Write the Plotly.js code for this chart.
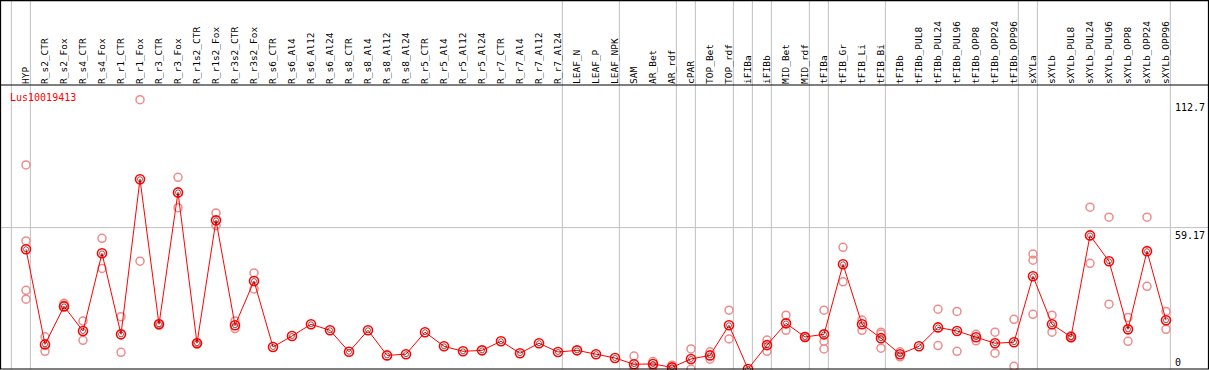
<!DOCTYPE html>
<html><head><meta charset="utf-8">
<script src="https://cdn.plot.ly/plotly-3.0.1.min.js"></script>
<style>html,body{margin:0;padding:0;background:#fff;overflow:hidden}#chart{width:1209px;height:370px}</style>
</head><body><div id="chart"></div>
<script>
const categories = ['HYP','R_s2_CTR','R_s2_Fox','R_s4_CTR','R_s4_Fox','R_r1_CTR','R_r1_Fox','R_r3_CTR','R_r3_Fox','R_r1s2_CTR','R_r1s2_Fox','R_r3s2_CTR','R_r3s2_Fox','R_s6_CTR','R_s6_Al4','R_s6_Al12','R_s6_Al24','R_s8_CTR','R_s8_Al4','R_s8_Al12','R_s8_Al24','R_r5_CTR','R_r5_Al4','R_r5_Al12','R_r5_Al24','R_r7_CTR','R_r7_Al4','R_r7_Al12','R_r7_Al24','LEAF_N','LEAF_P','LEAF_NPK','SAM','AR_Bet','AR_rdf','cPAR','TOP_Bet','TOP_rdf','iFIBa','iFIBb','MID_Bet','MID_rdf','tFIBa','tFIB_Gr','tFIB_Li','tFIB_Bi','tFIBb','tFIBb_PUL8','tFIBb_PUL24','tFIBb_PUL96','tFIBb_OPP8','tFIBb_OPP24','tFIBb_OPP96','sXYLa','sXYLb','sXYLb_PUL8','sXYLb_PUL24','sXYLb_PUL96','sXYLb_OPP8','sXYLb_OPP24','sXYLb_OPP96'];

const meanValues = [50.1,10.3,26.2,15.9,48.4,14.5,79.4,18.7,73.9,10.8,62.2,18.3,36.8,9.2,13.8,18.7,16.2,7.2,16.2,5.7,6.2,15.4,9.5,7.4,7.8,11.6,6.6,10.8,7.1,7.8,6.2,4.6,2.0,2.1,0.7,4.2,5.7,18.3,0,10.0,19.1,13.4,14.5,43.8,18.7,12.9,6.2,9.5,17.4,15.9,13.3,10.8,11.2,38.8,18.7,13.4,55.9,45.1,16.6,49.3,20.4];

const rep1 = [85.4,13.5,27.5,20.1,54.7,21.9,112.7,19.0,80.2,11.0,65.3,20.1,40.2,null,null,null,null,null,null,null,null,null,null,null,null,null,null,null,null,null,null,null,5.4,3.1,1.6,8.4,7.2,24.6,null,12.1,22.5,13.6,24.6,50.9,20.5,15.4,7.2,null,25.0,24.1,14.5,15.4,20.8,48.1,22.5,12.9,67.7,63.5,21.6,63.5,24.1];
const rep2 = [53.6,7.4,26.8,12.0,42.1,7.0,45.1,18.4,67.5,10.5,60.0,16.9,33.5,null,null,null,null,null,null,null,null,null,null,null,null,null,null,null,null,null,null,null,0.3,1.0,0,0,4.1,12.6,null,7.4,16.2,13.2,11.6,36.5,16.2,14.6,5.1,null,9.8,7.4,11.8,6.6,1.1,45.5,15.4,13.9,44.2,27.1,11.6,34.6,16.6];
const rep3 = [32.9,null,null,null,null,null,null,null,null,null,null,null,null,null,null,null,null,null,null,null,null,null,null,null,null,null,null,null,null,null,null,null,null,null,null,null,null,null,null,null,null,null,8.4,null,null,8.7,null,null,null,null,null,null,null,22.9,null,null,null,null,null,null,null];
const rep4 = [29.2,null,null,null,null,null,null,null,null,null,null,null,null,null,null,null,null,null,null,null,null,null,null,null,null,null,null,null,null,null,null,null,null,null,null,null,null,null,null,null,null,null,null,null,null,null,null,null,null,null,null,null,null,null,null,null,null,null,null,null,null];

// separator lines are drawn after the last category of each group
const groupEnds = ['HYP','R_r7_Al24','LEAF_NPK','AR_rdf','cPAR','TOP_rdf','iFIBa','iFIBb','MID_rdf','tFIBa','tFIB_Bi','tFIBb_OPP96','sXYLa','sXYLb_OPP96'];
const scaleLabels = [112.7, 59.17, 0];
const gridValue = 59.17;
const geneLabel = 'Lus10019413';

const W = 1209, H = 370, ML = 1, MR = 1, MT = 85, MB = 1;
const plotH = H - MT - MB;
const topPaper = 1 + MT / plotH;
const mono = 'DejaVu Sans Mono, monospace';

const repColor = 'rgb(238,140,140)';
const reps = [rep1, rep2, rep3, rep4];
const traces = reps.map(r => ({
  type: 'scatter', mode: 'markers', x: categories, y: r,
  marker: {symbol: 'circle-open', size: 8, color: repColor, line: {width: 1.5, color: repColor}},
  cliponaxis: false, hoverinfo: 'skip', showlegend: false
}));
traces.push({
  type: 'scatter', mode: 'lines+markers', x: categories, y: meanValues,
  line: {color: 'rgb(255,0,0)', width: 1},
  marker: {symbol: 'circle-open', size: 9, color: 'rgb(255,0,0)', line: {width: 1.6, color: 'rgb(255,0,0)'}},
  cliponaxis: false, hoverinfo: 'skip', showlegend: false
});
traces.push({
  type: 'scatter', mode: 'markers', x: categories, y: meanValues,
  marker: {symbol: 'circle-open', size: 5, color: 'rgba(60,0,0,0.8)', line: {width: 0.8, color: 'rgba(60,0,0,0.8)'}},
  cliponaxis: false, hoverinfo: 'skip', showlegend: false
});

const shapes = [];
const sepPos = [-1].concat(groupEnds.map(n => categories.indexOf(n)));
sepPos.forEach(i => shapes.push({type: 'line', xref: 'x', yref: 'paper', x0: i + 0.23, x1: i + 0.23, y0: 0, y1: topPaper, line: {color: '#c0c0c0', width: 1}, layer: 'below'}));
shapes.push({type: 'line', xref: 'paper', yref: 'y', x0: 0, x1: 1, y0: gridValue, y1: gridValue, line: {color: '#c0c0c0', width: 1}, layer: 'below'});
shapes.push({type: 'line', xref: 'paper', yref: 'paper', x0: 0, x1: 1, y0: 1, y1: 1, line: {color: '#000', width: 1.2}});
shapes.push({type: 'rect', xref: 'paper', yref: 'paper', x0: -0.0004, x1: 1.0004, y0: 0, y1: topPaper - 0.002, line: {color: '#000', width: 1.2}});

const annotations = scaleLabels.map(v => ({
  xref: 'paper', yref: 'y', x: (1174 - ML) / (W - ML - MR), y: v, xanchor: 'left',
  yanchor: v === 0 ? 'bottom' : 'top', text: String(v), showarrow: false,
  font: {family: mono, size: 10, color: '#000'}, borderpad: 0, yshift: v === 0 ? 0 : -1
}));
annotations.push({xref: 'paper', yref: 'paper', x: (9 - ML) / (W - ML - MR), y: (H - MB - 97) / plotH, xanchor: 'left', yanchor: 'middle', text: geneLabel, showarrow: false, font: {family: mono, size: 10, color: 'rgb(255,0,0)'}, borderpad: 0});

const layout = {
  width: W, height: H, margin: {l: ML, r: MR, t: MT, b: MB, pad: 0},
  paper_bgcolor: '#fff', plot_bgcolor: '#fff', showlegend: false,
  xaxis: {type: 'category', categoryorder: 'array', categoryarray: categories, side: 'top',
    range: [-(26 - ML) / 19, (W - MR - 26) / 19], tickangle: -90, ticks: '', showgrid: false, zeroline: false,
    showline: false, tickfont: {family: mono, size: 9.5, color: '#000'}, automargin: false, fixedrange: true},
  yaxis: {range: [0, plotH / 2.39], showticklabels: false, ticks: '', showgrid: false, zeroline: false, showline: false, fixedrange: true},
  shapes: shapes, annotations: annotations, hovermode: false
};
Plotly.newPlot('chart', traces, layout, {staticPlot: true, displayModeBar: false});
</script></body></html>
